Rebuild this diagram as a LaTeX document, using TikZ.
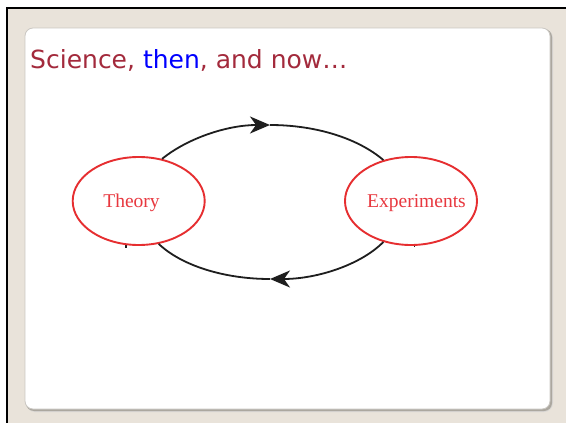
\documentclass[tikz,border=0pt]{standalone}
\usepackage{fontspec}
\setmainfont{Liberation Serif}
\newfontfamily\titlefont{DejaVu Sans}
\usetikzlibrary{arrows.meta,shapes.geometric}
\definecolor{bgbeige}{HTML}{E9E3DA}
\definecolor{titlered}{HTML}{A32A3C}
\definecolor{ellred}{HTML}{E62E30}
\definecolor{lblred}{HTML}{E8383F}
\definecolor{shadowgray}{HTML}{ABA79F}
\definecolor{panelborder}{HTML}{CBC8C3}
\definecolor{arcblack}{HTML}{1E1E1E}
\tikzset{
  bubble/.style={ellipse, draw=ellred, line width=1.9pt, fill=white,
    minimum width=132pt, minimum height=88pt, inner sep=0pt},
  lbl/.style={anchor=base, inner sep=0pt, text=lblred,
    font=\fontsize{19.5}{22}\selectfont},
  conn/.style={draw=arcblack, line width=1.8pt},
  tip/.style={-{Stealth[length=20pt,width=17pt,inset=6pt]}}
}
\begin{document}
\begin{tikzpicture}[x=1pt,y=1pt]
\useasboundingbox (0,0) rectangle (566,-423);
\fill[white] (0,0) rectangle (566,-423);
\fill[bgbeige] (7,-8) rectangle (566,-423);
\draw[black, line width=2pt] (7,-423) -- (7,-8) -- (566,-8);
% panel with shadow
\fill[shadowgray!45, rounded corners=9pt] (26,-29) rectangle (553,-412);
\fill[shadowgray, rounded corners=8pt] (26,-29) rectangle (552,-411);
\filldraw[fill=white, draw=panelborder, line width=0.8pt, rounded corners=8pt] (25,-28) rectangle (550,-409);
% title
\node[anchor=base west, inner sep=0pt, text=titlered,
  font=\titlefont\fontsize{25}{29}\selectfont] (title) at (30,-68)
  {Science, \textcolor{blue}{then}, and now…};
% small stray ticks under the ellipses
\draw[arcblack, line width=1.4pt] (126,-236) -- (126,-248);
\draw[arcblack, line width=1pt] (414,-238) -- (414,-247);
% ellipses
\node[bubble] (T) at (138.7,-201) {};
\node[bubble] (E) at (411,-201) {};
\node[lbl] (Tl) at (131.5,-207) {Theory};
\node[lbl] (El) at (416.5,-207) {Experiments};
% connectors
\coordinate (top) at (270,-125);
\coordinate (bot) at (270,-279);
\draw[conn, tip] (T.61) .. controls (188.3,-137.7) and (228,-125) .. (top);
\draw[conn] (top) .. controls (315.4,-125) and (357.7,-138.1) .. (E.124);
\draw[conn, tip] (E.236) .. controls (360.7,-264.9) and (317,-279) .. (bot);
\draw[conn] (bot) .. controls (224.2,-279) and (181.6,-265.6) .. (T.295);
\end{tikzpicture}
\end{document}
